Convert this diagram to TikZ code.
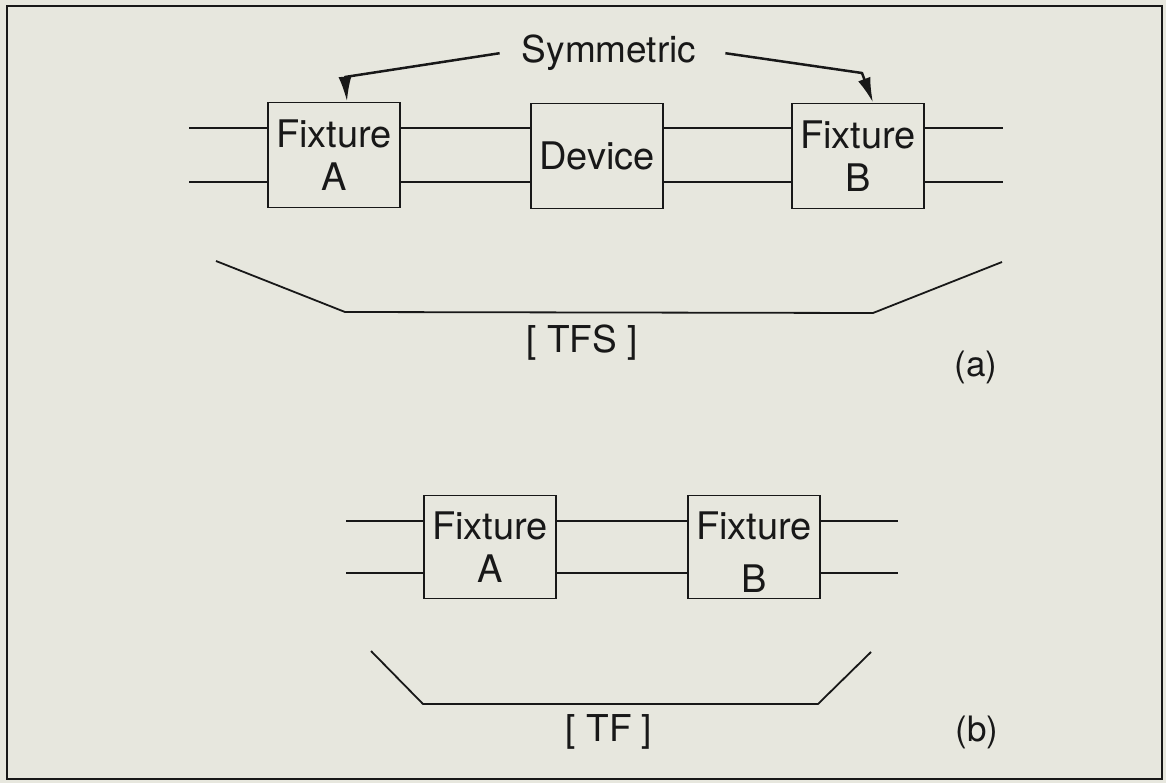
\documentclass[tikz,border=0pt]{standalone}
\usepackage{fontspec}
\setmainfont{TeX Gyre Heros}
\usetikzlibrary{positioning, arrows.meta, calc}
\definecolor{paper}{RGB}{231,231,222}
\definecolor{ink}{RGB}{24,24,24}
\tikzset{
  fixture/.style={draw=ink, line width=1.8pt, minimum width=132pt,
    minimum height=105pt, inner sep=0pt, align=center, text=ink,
    font=\fontsize{38}{43}\selectfont},
  wire/.style={draw=ink, line width=1.8pt, line join=round},
  label/.style={text=ink, inner sep=0pt, font=\fontsize{37}{43}\selectfont},
  tag/.style={text=ink, inner sep=0pt, font=\fontsize{35}{40}\selectfont},
  pointer/.style={draw=ink, line width=2.5pt, line join=round,
    -{Latex[length=25pt,width=13pt]}},
}

\begin{document}
\begin{tikzpicture}[x=1pt, y=-1pt]
  \fill[paper] (0,0) rectangle (1166,783);
  \useasboundingbox (0,0) rectangle (1166,783);
  \draw[ink, line width=2.6pt] (7,6) rectangle (1162,779);

  % (a) fixtures with the device
  \node[fixture] (fixA) at (334,155) {Fixture\\A};
  \node[fixture] (dev) at (597,156) {Device};
  \node[fixture] (fixB) at (858,156) {Fixture\\B};

  \coordinate (inTop) at (189,128);
  \coordinate (inBot) at (189,182);
  \coordinate (outTop) at (1003,128);
  \coordinate (outBot) at (1003,182);
  \foreach \w in {Top,Bot} {
    \draw[wire] (in\w) -- (in\w -| fixA.west)
          (fixA.east |- in\w) -- (dev.west |- in\w)
          (dev.east |- in\w) -- (fixB.west |- in\w)
          (fixB.east |- out\w) -- (out\w);
  }

  \node[label, anchor=base] (sym) at (609,63) {Symmetric};
  \coordinate (bendA) at (345,77);
  \coordinate (bendB) at (862,73);
  \draw[pointer] ([xshift=-22pt]sym.west) -- (bendA) -- ([xshift=13pt]fixA.north);
  \draw[pointer] ([xshift=29pt]sym.east) -- (bendB) -- ([xshift=15pt]fixB.north);

  \draw[wire] (216,261) -- (345,312) -- (873,313) -- (1002,262);
  \node[label] (tfs) at (582,343) {[ TFS ]};
  \node[tag] (tagA) at (976,367) {(a)};

  % (b) fixtures only
  \node[fixture, minimum height=103pt] (fixA2) at (490,547) {Fixture\\A};
  \node[fixture, minimum height=103pt] (fixB2) at (754,547)
    {Fixture\\\raisebox{-10pt}[0pt][0pt]{B}};

  \coordinate (in2Top) at (346,521);
  \coordinate (in2Bot) at (346,573);
  \coordinate (out2Top) at (898,521);
  \coordinate (out2Bot) at (898,573);
  \foreach \w in {Top,Bot} {
    \draw[wire] (in2\w) -- (in2\w -| fixA2.west)
          (fixA2.east |- in2\w) -- (fixB2.west |- in2\w)
          (fixB2.east |- out2\w) -- (out2\w);
  }

  \draw[wire] (371,651) -- (423,704) -- (818,704) -- (871,652);
  \node[label] (tf) at (609,732) {[ TF ]};
  \node[tag] (tagB) at (977,732) {(b)};
\end{tikzpicture}
\end{document}
